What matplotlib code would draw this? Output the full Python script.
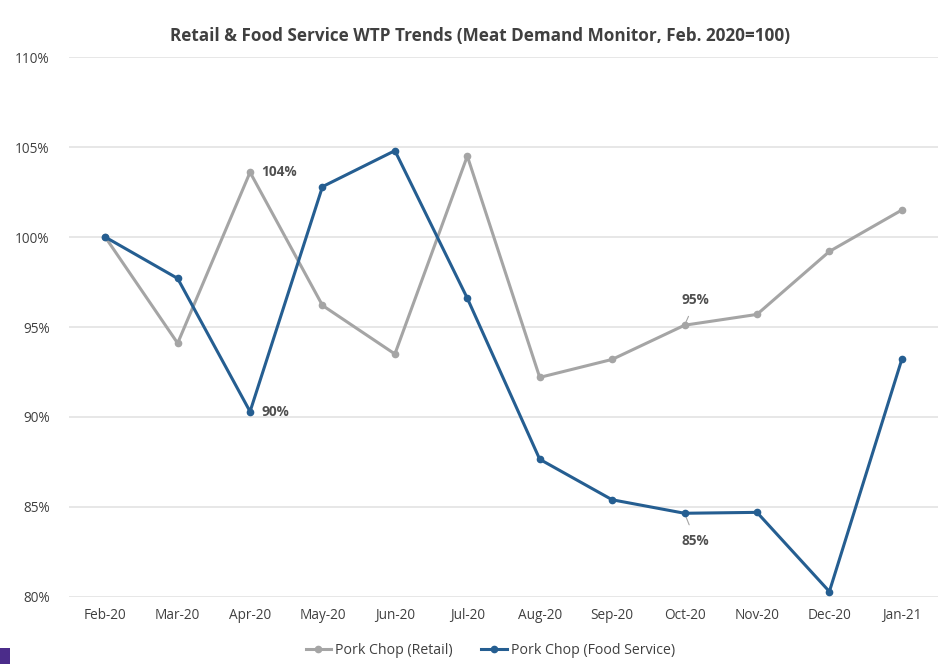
import matplotlib.pyplot as plt
from matplotlib.patches import Rectangle

months = ["Feb-20", "Mar-20", "Apr-20", "May-20", "Jun-20", "Jul-20",
          "Aug-20", "Sep-20", "Oct-20", "Nov-20", "Dec-20", "Jan-21"]
retail = [100.0, 94.1, 103.6, 96.2, 93.5, 104.5, 92.2, 93.2, 95.1, 95.7, 99.2, 101.5]
food_service = [100.0, 97.7, 90.3, 102.8, 104.8, 96.6, 87.65, 85.4, 84.65, 84.7, 80.3, 93.2]
yticks = [80, 85, 90, 95, 100, 105, 110]

plt.rcParams['font.family'] = ['Open Sans', 'DejaVu Sans']

fig = plt.figure(figsize=(9.43, 6.64), dpi=100)
ax = fig.add_axes([0.0732, 0.101, 0.9215, 0.813])

x = list(range(len(months)))
ax.plot(x, retail, color="#A5A5A5", lw=2.2, marker="o", ms=4.5,
        label="Pork Chop (Retail)", zorder=3)
ax.plot(x, food_service, color="#255E91", lw=2.2, marker="o", ms=4.5,
        label="Pork Chop (Food Service)", zorder=4)

ax.set_xlim(-0.5, len(months) - 0.5)
ax.set_ylim(80, 110)
ax.set_yticks(yticks)
ax.set_yticklabels([f"{v}%" for v in yticks])
ax.set_xticks(x)
ax.set_xticklabels(months)
ax.grid(axis="y", color="#E3E3E3", lw=1.2)
ax.set_axisbelow(True)
for s in ax.spines.values():
    s.set_visible(False)
ax.tick_params(length=0, labelsize=9.8, labelcolor="#404040")
ax.tick_params(axis="x", pad=8)
ax.tick_params(axis="y", pad=14)

lab_kw = dict(fontsize=9.8, color="#505050", fontweight="bold")
ax.annotate("104%", (2, retail[2]), xytext=(8, 0), textcoords="offset points",
            va="center", ha="left", **lab_kw)
ax.annotate("90%", (2, food_service[2]), xytext=(8, 0), textcoords="offset points",
            va="center", ha="left", **lab_kw)
ax.annotate("95%", (8, retail[8]), xytext=(8, 18), textcoords="offset points",
            va="center", ha="center",
            arrowprops=dict(arrowstyle="-", color="#A5A5A5", lw=0.8, shrinkA=5, shrinkB=1), **lab_kw)
ax.annotate("85%", (8, food_service[8]), xytext=(8, -20), textcoords="offset points",
            va="center", ha="center",
            arrowprops=dict(arrowstyle="-", color="#A5A5A5", lw=0.8, shrinkA=5, shrinkB=1), **lab_kw)

fig.suptitle("Retail & Food Service WTP Trends (Meat Demand Monitor, Feb. 2020=100)",
             x=0.509, y=0.96, fontsize=12.3, color="#404040", fontweight="bold")

leg = fig.legend(loc="center", bbox_to_anchor=(0.52, 0.021), ncol=2, frameon=False,
                 fontsize=10.2, handlelength=1.8, handletextpad=0.3, columnspacing=2.0)
for t in leg.get_texts():
    t.set_color("#404040")

fig.add_artist(Rectangle((0, 0), 0.011, 0.024, transform=fig.transFigure,
                         color="#4B2C8A", lw=0))

fig.savefig("out.png", dpi=100)
